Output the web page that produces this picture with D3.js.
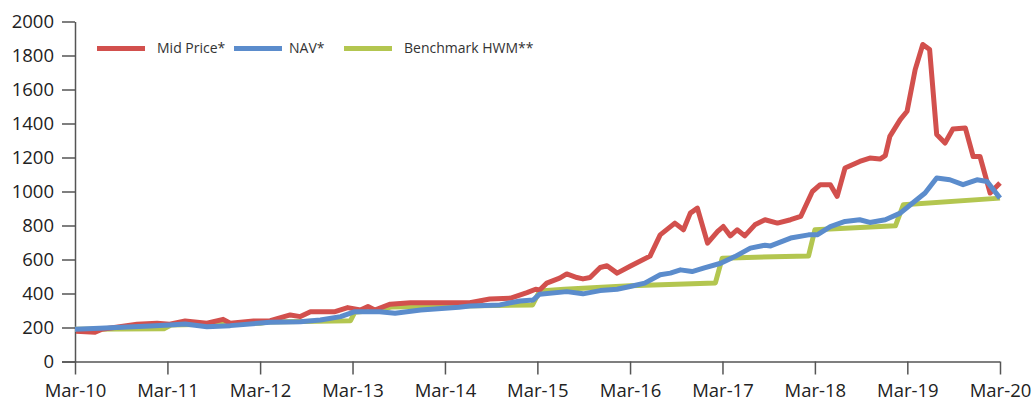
<!DOCTYPE html>
<html>
<head>
<meta charset="utf-8">
<script src="https://cdn.jsdelivr.net/npm/d3@7"></script>
<style>
  body { margin: 0; background: #fff; }
  svg text { font-family: "Open Sans", "Noto Sans", sans-serif; }
</style>
</head>
<body>
<div id="chart"></div>
<script>
// Mid Price*
var midDates = ["2010-03-05","2010-05-19","2010-06-16","2010-11-01","2011-01-19","2011-03-10","2011-05-10","2011-08-04",
  "2011-10-07","2011-11-04","2012-02-04","2012-04-10","2012-06-28","2012-08-07","2012-09-16","2012-12-22","2013-02-10",
  "2013-04-01","2013-05-01","2013-05-28","2013-07-28","2013-10-16","2014-03-22","2014-06-07","2014-08-25","2014-11-13",
  "2015-01-19","2015-02-22","2015-03-10","2015-04-07","2015-05-28","2015-06-25","2015-08-04","2015-08-28","2015-09-25",
  "2015-11-04","2015-12-01","2016-01-10","2016-03-01","2016-05-19","2016-06-28","2016-08-25","2016-09-28","2016-10-25",
  "2016-11-22","2017-01-01","2017-02-10","2017-03-04","2017-04-01","2017-04-28","2017-05-28","2017-07-07","2017-08-16",
  "2017-10-04","2017-11-25","2018-01-04","2018-02-19","2018-03-22","2018-05-01","2018-05-28","2018-06-28","2018-08-25",
  "2018-10-04","2018-11-13","2018-12-04","2018-12-22","2019-02-01","2019-02-28","2019-04-01","2019-05-01","2019-05-28",
  "2019-06-25","2019-07-28","2019-08-28","2019-10-16","2019-11-16","2019-12-13","2020-01-22","2020-03-01"];
var midValues = [178,172,190,219,225,219,238,225,
  248,225,238,240,274,264,293,293,317,
  303,323,303,337,346,346,346,368,372,
  405,425,421,461,490,515,494,486,494,
  553,563,520,560,620,745,814,775,873,
  902,696,765,794,739,775,739,804,834,
  814,834,853,1000,1040,1040,971,1138,1177,
  1197,1191,1211,1324,1423,1472,1717,1865,1835,
  1335,1285,1368,1374,1206,1206,991,1050];

// NAV*
var navDates = ["2010-03-01","2010-06-07","2010-12-22","2011-03-10","2011-05-10","2011-08-04","2011-11-04","2012-04-10",
  "2012-08-07","2012-10-25","2013-01-13","2013-03-10","2013-06-16","2013-08-16","2013-11-25","2014-04-25","2014-06-07",
  "2014-10-04","2014-12-22","2015-02-13","2015-03-10","2015-06-25","2015-08-28","2015-11-04","2016-01-10","2016-03-01",
  "2016-04-28","2016-06-28","2016-08-07","2016-09-16","2016-11-01","2016-12-16","2017-02-22","2017-04-19","2017-06-19",
  "2017-08-16","2017-09-07","2017-11-25","2018-02-04","2018-03-10","2018-05-01","2018-06-28","2018-08-25","2018-10-04",
  "2018-12-04","2019-02-01","2019-03-22","2019-05-10","2019-06-25","2019-08-16","2019-10-07","2019-12-01","2020-01-10",
  "2020-03-01"];
var navValues = [190,195,209,215,221,205,211,231,
  234,244,264,293,293,284,303,319,327,
  333,356,362,396,411,398,417,425,441,
  461,510,520,539,529,549,578,617,667,
  684,680,726,745,745,794,824,834,818,
  834,873,932,991,1079,1069,1040,1069,1059,
  961];

// Benchmark HWM**
var hwmDates = ["2010-03-01","2011-02-15","2011-03-15","2012-03-01","2012-04-01","2013-02-21","2013-03-10","2013-06-15",
  "2013-08-01","2014-03-01","2015-02-10","2015-03-10","2015-06-15","2016-03-01","2017-02-01","2017-02-28","2018-02-04",
  "2018-03-01","2019-01-13","2019-02-13","2020-03-01"];
var hwmValues = [190,192,215,225,232,240,290,305,
  320,325,333,415,425,445,462,608,621,
  775,798,922,961];

var seriesNames = ["Mid Price*", "NAV*", "Benchmark HWM**"];
var seriesColors = ["#d2504d", "#5b8ccc", "#b3c650"];
var yTicks = [0,200,400,600,800,1000,1200,1400,1600,1800,2000];
var xTickYears = [2010,2011,2012,2013,2014,2015,2016,2017,2018,2019,2020];

var width = 1035, height = 402;
var parse = d3.timeParse("%Y-%m-%d");

function pairs(dates, values) {
  return dates.map(function(d, i) { return {date: parse(d), value: values[i]}; });
}
var mid = pairs(midDates, midValues);
var nav = pairs(navDates, navValues);
var hwm = pairs(hwmDates, hwmValues);

var svg = d3.select("#chart").append("svg")
  .attr("width", width)
  .attr("height", height);

var x = d3.scaleTime()
  .domain([new Date(2010, 2, 1), new Date(2020, 2, 1)])
  .range([75, 1000]);
var y = d3.scaleLinear()
  .domain([0, 2000])
  .range([361.5, 21.5]);

// y axis
var yAxis = svg.append("g")
  .attr("transform", "translate(75,0)")
  .call(d3.axisLeft(y).tickValues(yTicks).tickFormat(d3.format("d"))
    .tickSize(13).tickPadding(8).tickSizeOuter(0));

// x axis
var xAxis = svg.append("g")
  .attr("transform", "translate(0,361.5)")
  .call(d3.axisBottom(x)
    .tickValues(xTickYears.map(function(yr) { return new Date(yr, 2, 1); }))
    .tickFormat(d3.timeFormat("%b-%y"))
    .tickSize(13).tickPadding(9).tickSizeOuter(0));

[yAxis, xAxis].forEach(function(g) {
  g.select(".domain").attr("stroke", "#555").attr("stroke-width", 1.5);
  g.selectAll(".tick line").attr("stroke", "#555").attr("stroke-width", 1.5);
  g.selectAll(".tick text").attr("fill", "#222").style("font-size", "18.5px");
});
xAxis.select(".domain").attr("d", "M62,0.5H1000");

var line = d3.line()
  .x(function(d) { return x(d.date); })
  .y(function(d) { return y(d.value); });

// draw order: benchmark below, then mid price, NAV on top
[[hwm, 2], [mid, 0], [nav, 1]].forEach(function(s) {
  svg.append("path")
    .datum(s[0])
    .attr("fill", "none")
    .attr("stroke", seriesColors[s[1]])
    .attr("stroke-width", 5)
    .attr("stroke-linejoin", "round")
    .attr("d", line);
});

// legend
var legendX = [97, 234, 344];
var legend = svg.append("g");
seriesNames.forEach(function(name, i) {
  legend.append("line")
    .attr("x1", legendX[i]).attr("x2", legendX[i] + 48)
    .attr("y1", 48.5).attr("y2", 48.5)
    .attr("stroke", seriesColors[i])
    .attr("stroke-width", 5);
  legend.append("text")
    .attr("x", legendX[i] + (i == 1 ? 55 : 60))
    .attr("y", 53)
    .attr("fill", "#333")
    .style("font-size", "14px")
    .text(name);
});
</script>
</body>
</html>
